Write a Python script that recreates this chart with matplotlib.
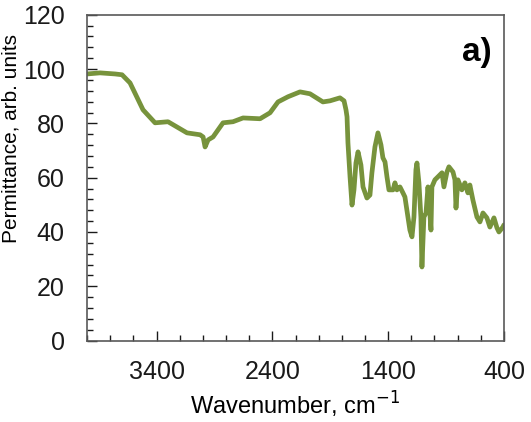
import numpy as np
import matplotlib
matplotlib.use("Agg")
import matplotlib.pyplot as plt
from matplotlib.ticker import MultipleLocator

plt.rcParams['font.family'] = ['Liberation Sans', 'DejaVu Sans']

# FTIR spectrum (wavenumber in cm-1, permittance)
wavenumber = [4000, 3888, 3758, 3698, 3629, 3517, 3413, 3301, 3137, 3024,
              2998, 2981, 2955, 2912, 2826, 2740, 2653, 2506, 2420, 2351,
              2265, 2161, 2075, 1963, 1902, 1816, 1781, 1764, 1755, 1747,
              1729, 1712, 1695, 1678, 1660, 1635, 1617, 1583, 1557, 1540,
              1514, 1488, 1462, 1445, 1427, 1410, 1393, 1358, 1341, 1324,
              1298, 1272, 1255, 1229, 1212, 1194, 1177, 1160, 1151, 1134,
              1117, 1108, 1091, 1073, 1056, 1047, 1030, 1022, 996, 970,
              935, 918, 892, 875, 840, 823, 814, 797, 763, 737,
              711, 694, 668, 633, 607, 581, 547, 521, 486, 460,
              443, 409, 400]
permittance = [98.2, 98.6, 98.2, 97.9, 94.9, 85.0, 80.2, 80.6, 76.5, 75.8,
               75.0, 71.3, 73.9, 75.0, 80.2, 80.6, 82.0, 81.7, 83.9, 87.9,
               89.8, 91.6, 90.9, 87.9, 88.3, 89.4, 88.3, 85.0, 82.4, 72.8,
               60.3, 49.9, 55.5, 65.4, 69.5, 64.7, 56.6, 52.5, 53.6, 61.8,
               71.3, 76.5, 72.1, 67.3, 65.8, 60.3, 55.5, 55.5, 58.1, 55.5,
               56.6, 54.4, 52.9, 45.5, 40.7, 38.2, 45.5, 62.9, 65.4, 58.1,
               45.5, 27.1, 45.5, 47.0, 56.6, 51.8, 40.7, 56.6, 59.2, 60.3,
               61.8, 56.6, 62.1, 64.0, 62.1, 59.2, 48.8, 59.2, 55.5, 58.1,
               54.4, 57.3, 51.8, 45.5, 43.7, 47.0, 45.2, 41.8, 45.2, 41.5,
               40.0, 41.8, 42.6]

fig = plt.figure(figsize=(5.31, 4.22), dpi=100)
ax = fig.add_axes([0.164, 0.193, 0.785, 0.772])

ax.plot(wavenumber, permittance, color='#77933C', linewidth=3.4,
        solid_joinstyle='round', solid_capstyle='round')

ax.set_xlim(4000, 400)
ax.set_ylim(0, 120)
ax.set_xticks([3400, 2400, 1400, 400])
ax.xaxis.set_minor_locator(MultipleLocator(200))
ax.yaxis.set_major_locator(MultipleLocator(20))
ax.yaxis.set_minor_locator(MultipleLocator(4))

ax.tick_params(which='both', direction='in', colors='#1a1a1a', labelsize=18)
ax.tick_params(axis='x', which='both', top=False, pad=14)
ax.tick_params(axis='y', which='both', right=False, pad=16)
ax.tick_params(which='major', length=7, width=1)
ax.tick_params(which='minor', length=4, width=1)

for s in ax.spines.values():
    s.set_color('#595959')
    s.set_linewidth(1.2)

ax.set_xlabel('Wavenumber, cm$^{-1}$', fontsize=17, labelpad=4)
ax.set_ylabel('Permittance, arb. units', fontsize=15)
ax.yaxis.set_label_coords(-0.16, 0.62)

ax.text(0.935, 0.885, 'a)', transform=ax.transAxes, fontsize=24,
        fontweight='bold', ha='center', va='center')

fig.savefig('out.png', dpi=100)
